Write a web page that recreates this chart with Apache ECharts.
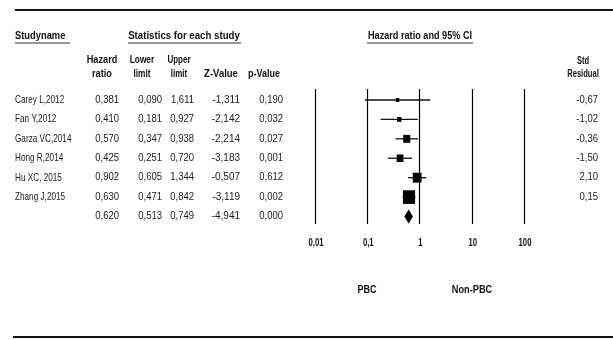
<!DOCTYPE html>
<html><head><meta charset="utf-8">
<script src="https://cdn.jsdelivr.net/npm/echarts@6/dist/echarts.min.js"></script>
<style>html,body{margin:0;padding:0;background:#fff}#c{width:613px;height:340px}</style>
</head><body><div id="c"></div>
<script>
const studies = ["Carey L,2012","Fan Y,2012","Garza VC,2014","Hong R,2014","Hu XC, 2015","Zhang J,2015",""];
const hazardRatio = [0.381,0.410,0.570,0.425,0.902,0.630,0.620];
const lowerLimit = [0.090,0.181,0.347,0.251,0.605,0.471,0.513];
const upperLimit = [1.611,0.927,0.938,0.720,1.344,0.842,0.749];
const zValue = [-1.311,-2.142,-2.214,-3.183,-0.507,-3.119,-4.941];
const pValue = [0.190,0.032,0.027,0.001,0.612,0.002,0.000];
const stdResidual = [-0.67,-1.02,-0.36,-1.50,2.10,0.15,null];
const tickValues = [0.01,0.1,1,10,100];
const tickLabels = ["0,01","0,1","1","10","100"];
const sideLabels = ["PBC","Non-PBC"];

const FONT = "'Liberation Sans',Arial,sans-serif";
const fmt = (v, d) => v.toFixed(d).replace('.', ',');
const SUMMARY = studies.length - 1;

const chart = echarts.init(document.getElementById('c'));

const rows = studies.map((s, i) => [1, i]);

function T(x, y, text, align, opts) {
  opts = opts || {};
  const el = { type: 'text', x: x, y: y, scaleX: opts.sx || 1, scaleY: 1,
    style: { x: 0, y: 0, text: text, align: align, verticalAlign: 'middle',
      font: (opts.bold ? 'bold ' : '') + (opts.size || 10) + 'px ' + FONT, fill: opts.color || '#1a1a1a' } };
  if (opts.lh) el.style.lineHeight = opts.lh;
  return el;
}

const option = {
  animation: false,
  grid: { left: 315, right: 89, top: 89, bottom: 116 },
  xAxis: {
    type: 'log', logBase: 10, min: 0.01, max: 100,
    axisLine: { show: false }, axisTick: { show: false },
    splitLine: { show: true, lineStyle: { color: '#000', width: 1.2 } },
    axisLabel: { show: false }
  },
  yAxis: { type: 'value', inverse: true, min: -0.566, max: 6.386, show: false, splitLine: { show: false } },
  series: [
    {
      type: 'custom', clip: false, silent: true,
      data: rows,
      renderItem: function (params, api) {
        const i = api.value(1);
        const y = api.coord([1, i])[1];
        const ch = [
          T(15, y, studies[i], 'left', { sx: 0.745, size: 11 }),
          T(119, y, fmt(hazardRatio[i], 3), 'right', { sx: 0.95 }),
          T(162, y, fmt(lowerLimit[i], 3), 'right', { sx: 0.95 }),
          T(194, y, fmt(upperLimit[i], 3), 'right', { sx: 0.95 }),
          T(240, y, fmt(zValue[i], 3), 'right', { sx: 1 }),
          T(283, y, fmt(pValue[i], 3), 'right', { sx: 0.95 })
        ];
        if (stdResidual[i] !== null) ch.push(T(598, y, fmt(stdResidual[i], 2), 'right', { sx: 0.95 }));
        return { type: 'group', children: ch };
      }
    },
    {
      type: 'custom', clip: false, silent: true,
      data: rows,
      renderItem: function (params, api) {
        const i = api.value(1);
        const pLo = api.coord([lowerLimit[i], i]);
        const pHi = api.coord([upperLimit[i], i]);
        const pE = api.coord([hazardRatio[i], i]);
        if (i === SUMMARY) {
          const h = 7;
          return { type: 'polygon', shape: { points: [[pLo[0], pE[1]], [pE[0], pE[1] - h], [pHi[0], pE[1]], [pE[0], pE[1] + h]] },
            style: { fill: '#000' } };
        }
        const se = (Math.log(upperLimit[i]) - Math.log(lowerLimit[i])) / (2 * 1.96);
        const w = Math.max(3.5, 1.8 * Math.sqrt(1 / (se * se)));
        const hgt = w * 1.12;
        return { type: 'group', children: [
          { type: 'line', shape: { x1: pLo[0], y1: pLo[1], x2: pHi[0], y2: pHi[1] }, style: { stroke: '#111', lineWidth: 1.3 } },
          { type: 'rect', shape: { x: pE[0] - w / 2, y: pE[1] - hgt / 2, width: w, height: hgt }, style: { fill: '#000' } }
        ] };
      }
    },
    {
      type: 'custom', clip: false, silent: true,
      data: tickValues.map((v, k) => [v, k]),
      encode: { x: 0 },
      renderItem: function (params, api) {
        const k = params.dataIndex;
        const p = api.coord([api.value(0), SUMMARY]);
        const yAxisBottom = params.coordSys.y + params.coordSys.height;
        return T(p[0] + 1, yAxisBottom + 19, tickLabels[k], 'center', { bold: true, sx: 0.7, size: 11, color: '#111' });
      }
    }
  ],
  graphic: [
    { type: 'line', shape: { x1: 15, y1: 10, x2: 613, y2: 10 }, style: { stroke: '#111', lineWidth: 2.2 } },
    { type: 'line', shape: { x1: 13, y1: 337, x2: 613, y2: 337 }, style: { stroke: '#111', lineWidth: 2.2 } },
    T(15, 36, 'Studyname', 'left', { bold: true, size: 10.5, sx: 0.89, color: '#111' }),
    { type: 'line', shape: { x1: 15, y1: 43, x2: 70, y2: 43 }, style: { stroke: '#333', lineWidth: 1 } },
    T(184, 36, 'Statistics for each study', 'center', { bold: true, size: 10.5, sx: 0.92, color: '#111' }),
    { type: 'line', shape: { x1: 128, y1: 43, x2: 241, y2: 43 }, style: { stroke: '#333', lineWidth: 1 } },
    T(420, 36, 'Hazard ratio and 95% CI', 'center', { bold: true, size: 10.5, sx: 0.87, color: '#111' }),
    { type: 'line', shape: { x1: 367, y1: 43, x2: 473, y2: 43 }, style: { stroke: '#333', lineWidth: 1 } },
    T(102, 67, 'Hazard\nratio', 'center', { bold: true, lh: 14, sx: 0.92, color: '#111' }),
    T(142, 67, 'Lower\nlimit', 'center', { bold: true, lh: 14, sx: 0.83, color: '#111' }),
    T(179, 67, 'Upper\nlimit', 'center', { bold: true, lh: 14, sx: 0.8, color: '#111' }),
    T(221, 74, 'Z-Value', 'center', { bold: true, sx: 0.95, color: '#111' }),
    T(264, 74, 'p-Value', 'center', { bold: true, sx: 0.9, color: '#111' }),
    T(583, 68, 'Std\nResidual', 'center', { bold: true, size: 10.5, lh: 13, sx: 0.72, color: '#111' }),
    T(367, 290, sideLabels[0], 'center', { bold: true, sx: 0.9, color: '#111' }),
    T(472, 290, sideLabels[1], 'center', { bold: true, sx: 0.92, color: '#111' })
  ]
};
chart.setOption(option);
</script>
</body></html>
